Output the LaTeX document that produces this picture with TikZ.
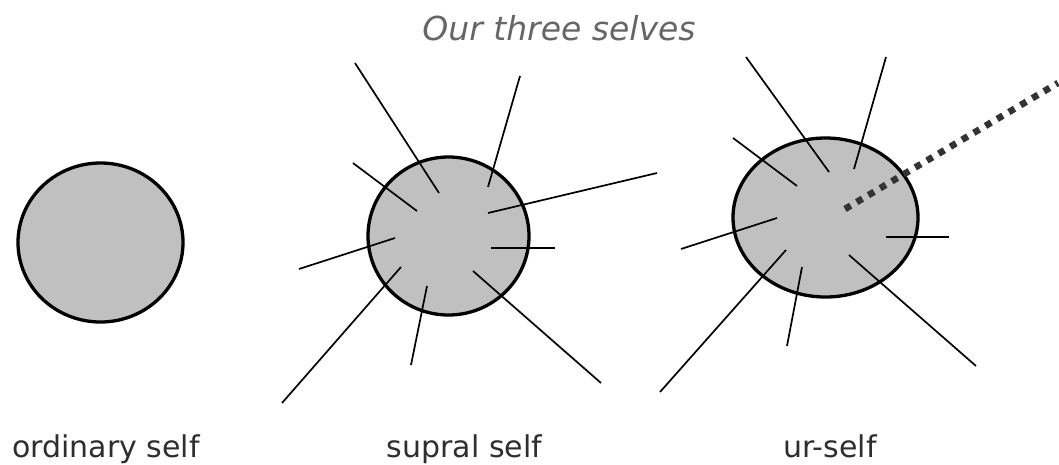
\documentclass[tikz,border=0pt]{standalone}
\usepackage{fontspec}
\setmainfont{DejaVu Sans}
\usetikzlibrary{shapes.geometric}
\definecolor{selffill}{HTML}{C0C0C0}
\definecolor{titlegray}{HTML}{666666}
\definecolor{labelgray}{HTML}{2E2E2E}
\definecolor{dotgray}{HTML}{333333}
\begin{document}
\begin{tikzpicture}[x=1pt,y=-1pt,
  selfshape/.style={ellipse,draw=black,line width=3.3pt,fill=selffill,inner sep=0pt},
  ray/.style={draw=black,line width=1.7pt},
  label/.style={font=\fontsize{30}{36}\selectfont,text=labelgray,anchor=base,inner sep=0pt},
  titletext/.style={font=\fontsize{33}{40}\selectfont\itshape,text=titlegray,anchor=base,inner sep=0pt},
  urline/.style={draw=dotgray,line width=6.6pt,dash pattern=on 6.6pt off 7pt}]
\useasboundingbox (0,0) rectangle (1059,464);
\fill[white] (0,0) rectangle (1059,464);
\node[titletext] (title) at (559,40.7) {Our three selves};
% ordinary self
\node[selfshape,minimum width=165pt,minimum height=159pt] (ord) at (100.5,242.5) {};
% supral self
\node[selfshape,minimum width=161pt,minimum height=158pt] (sup) at (448.5,236) {};
\draw[ray] (355,63) -- (439,193);
\draw[ray] (520,76) -- (488,187);
\draw[ray] (353,163) -- (417,211);
\draw[ray] (657,173) -- (488,213);
\draw[ray] (555,248) -- (491,248);
\draw[ray] (299,269) -- (395,238);
\draw[ray] (401,267) -- (282,403);
\draw[ray] (427,286) -- (411,365);
\draw[ray] (473,271) -- (601,383);
% ur-self
\node[selfshape,minimum width=185pt,minimum height=159pt] (ur) at (825.5,217.5) {};
\draw[ray] (746,57) -- (829,172);
\draw[ray] (886,57) -- (854,169);
\draw[ray] (733,138) -- (797,186);
\draw[ray] (681,249) -- (777,218);
\draw[ray] (949,237) -- (886,237);
\draw[ray] (786,250) -- (660,392);
\draw[ray] (802,267) -- (787,346);
\draw[ray] (849,255) -- (976,366);
\coordinate (urstart) at (845,209);
\coordinate (urend) at (1058,83);
\draw[urline] (urstart) -- (urend);
% labels
\node[label] (lord) at (106,457) {ordinary self};
\node[label] (lsup) at (464.5,457) {supral self};
\node[label] (lur) at (830,457) {ur-self};
\end{tikzpicture}
\end{document}
